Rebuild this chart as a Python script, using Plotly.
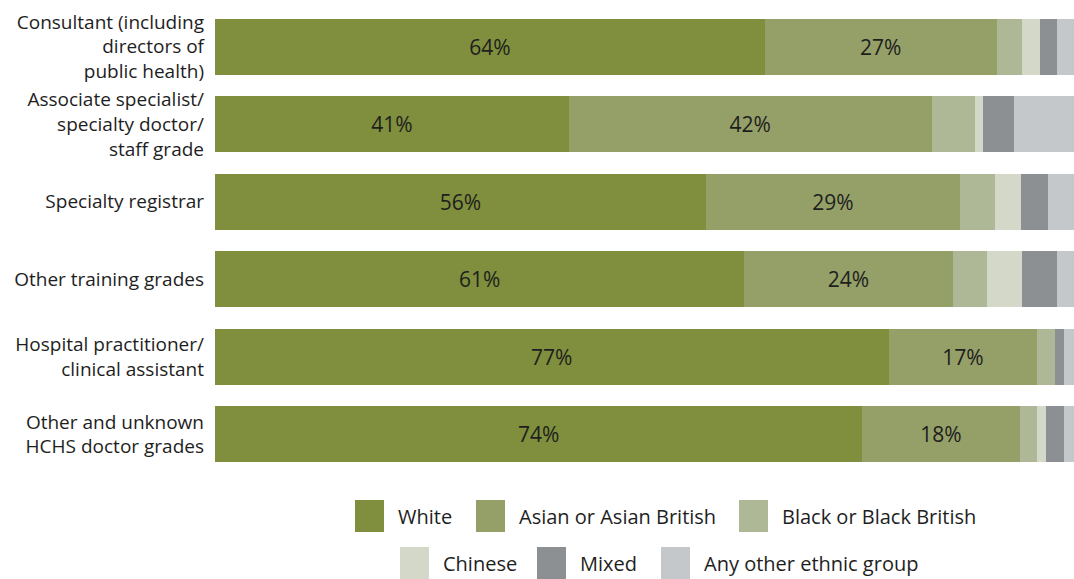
import plotly.graph_objects as go

# Doctor grades (top to bottom) and ethnic group shares (%)
grades = [
    "Consultant (including<br>directors of<br>public health)",
    "Associate specialist/<br>specialty doctor/<br>staff grade",
    "Specialty registrar",
    "Other training grades",
    "Hospital practitioner/<br>clinical assistant",
    "Other and unknown<br>HCHS doctor grades",
]
groups = ["White", "Asian or Asian British", "Black or Black British",
          "Chinese", "Mixed", "Any other ethnic group"]

white = [64, 41, 56, 61, 77, 74]
asian = [27, 42, 29, 24, 17, 18]
black = [3, 5, 4, 4, 2, 2]
chinese = [2, 1, 3, 4, 0, 1]
mixed = [2, 3.5, 3, 4, 1, 2]
other = [2, 7, 3, 2, 1.2, 1.2]

series = [white, asian, black, chinese, mixed, other]
colors = ["#7F8F3D", "#95A068", "#AEB896", "#D4D8C8", "#8D9092", "#C5C8CA"]
labelled = {"White", "Asian or Asian British"}

FONT = "Open Sans"
TXT = "#1e1e1e"

fig = go.Figure()
for name, vals, col in zip(groups, series, colors):
    fig.add_trace(go.Bar(
        y=grades, x=vals, name=name, orientation="h",
        marker=dict(color=col, line=dict(width=0)),
        text=[f"{v:.0f}%" for v in vals] if name in labelled else None,
        textposition="inside", insidetextanchor="middle",
        textfont=dict(family=FONT, size=21, color=TXT),
        showlegend=False,
    ))

W, H = 1074, 579
ML, MR, MT, MB = 215, 0, 8, 106
PW, PH = W - ML - MR, H - MT - MB


def px_x(x):
    return (x - ML) / PW


def px_y(y):
    return (H - MB - y) / PH


# Legend drawn as swatches + labels in two centred rows
legend_rows = [
    [(0, 355, 396), (1, 476, 517), (2, 739, 780)],
    [(3, 400, 441), (4, 537, 578), (5, 661, 702)],
]
row_tops = [500, 547]
shapes, annos = [], []
for row, top in zip(legend_rows, row_tops):
    for idx, sx, tx in row:
        shapes.append(dict(type="rect", xref="paper", yref="paper",
                           x0=px_x(sx), x1=px_x(sx + 29),
                           y0=px_y(top + 32), y1=px_y(top),
                           fillcolor=colors[idx], line=dict(width=0)))
        annos.append(dict(xref="paper", yref="paper", x=px_x(tx), y=px_y(top + 16),
                          text=groups[idx], showarrow=False, xanchor="left",
                          yanchor="middle",
                          font=dict(family=FONT, size=20, color=TXT)))

fig.update_layout(
    width=W, height=H,
    margin=dict(l=ML, r=MR, t=MT, b=MB),
    barmode="stack", barnorm="percent", bargap=0.28,
    plot_bgcolor="white", paper_bgcolor="white",
    font=dict(family=FONT, size=19, color=TXT),
    xaxis=dict(range=[0, 100], visible=False, fixedrange=True),
    yaxis=dict(autorange="reversed", showgrid=False, zeroline=False,
               showline=False, ticks="", ticklabelstandoff=10,
               tickfont=dict(family=FONT, size=19, color=TXT)),
    shapes=shapes, annotations=annos,
    uniformtext=dict(mode=False),
)

fig.write_html("out.html")
